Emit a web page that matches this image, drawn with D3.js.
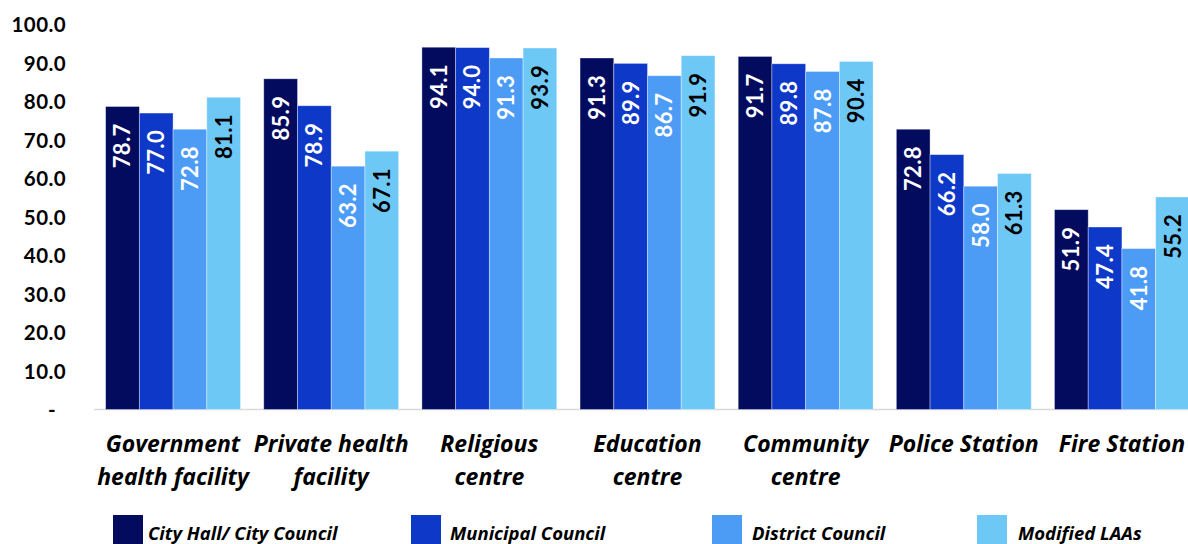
<!DOCTYPE html>
<html>
<head>
<meta charset="utf-8">
<script src="https://cdn.jsdelivr.net/npm/d3@7"></script>
<style>
  html, body { margin: 0; padding: 0; background: #fff; }
  svg { display: block; }
</style>
</head>
<body>
<svg id="chart" width="1188" height="544"></svg>
<script>
const categories = [
  ["Government", "health facility"],
  ["Private health", "facility"],
  ["Religious", "centre"],
  ["Education", "centre"],
  ["Community", "centre"],
  ["Police Station"],
  ["Fire Station"]
];
const seriesNames = ["City Hall/ City Council", "Municipal Council", "District Council", "Modified LAAs"];
const cityHall   = [78.7, 85.9, 94.1, 91.3, 91.7, 72.8, 51.9];
const municipal  = [77.0, 78.9, 94.0, 89.9, 89.8, 66.2, 47.4];
const district   = [72.8, 63.2, 91.3, 86.7, 87.8, 58.0, 41.8];
const modified   = [81.1, 67.1, 93.9, 91.9, 90.4, 61.3, 55.2];
const yTicks = [0, 10, 20, 30, 40, 50, 60, 70, 80, 90, 100];

const seriesValues = [cityHall, municipal, district, modified];
const colors = ["#020b5e", "#0e38c8", "#4c9cf6", "#6ec8f6"];
const labelColors = ["#ffffff", "#ffffff", "#ffffff", "#000000"];

const svg = d3.select("#chart");
const catKeys = categories.map(c => c.join(" "));

const x0 = d3.scaleBand().domain(catKeys).range([94, 1201])
  .paddingInner(0.147).paddingOuter(0.0735);
const x1 = d3.scaleBand().domain(d3.range(seriesNames.length)).range([0, x0.bandwidth()]);
const y = d3.scaleLinear().domain([0, 100]).range([409.5, 24.5]);

// y axis labels
const yAxis = d3.axisLeft(y).tickValues(yTicks).tickSize(0).tickPadding(0)
  .tickFormat(d => d === 0 ? "-" : d3.format(".1f")(d));
const gy = svg.append("g").attr("transform", "translate(66,0)").call(yAxis);
gy.select(".domain").remove();
gy.selectAll("text")
  .style("font-family", "Lato, sans-serif")
  .style("font-size", "20.5px").style("font-weight", 700).attr("fill", "#000")
  .attr("letter-spacing", 0.4)
  .attr("x", 0).attr("dy", "0.35em").attr("text-anchor", "end");
gy.selectAll(".tick").filter(d => d === 0).select("text").attr("x", -10);

// baseline
svg.append("line")
  .attr("x1", 94).attr("x2", 1188)
  .attr("y1", y(0)).attr("y2", y(0))
  .attr("stroke", "#d9d9d9").attr("stroke-width", 1.5);

// bars
const groups = svg.append("g").selectAll("g").data(catKeys).join("g")
  .attr("transform", d => `translate(${x0(d)},0)`);

groups.each(function(cat, ci) {
  const g = d3.select(this);
  seriesValues.forEach((vals, si) => {
    const v = vals[ci];
    g.append("rect")
      .attr("x", x1(si)).attr("width", x1.bandwidth())
      .attr("y", y(v)).attr("height", y(0) - y(v))
      .attr("fill", colors[si])
      .attr("stroke", "rgba(255,255,255,0.45)").attr("stroke-width", 0.8);
    const cx = x1(si) + x1.bandwidth() / 2;
    const ty = y(v) + 17;
    g.append("text")
      .attr("transform", `translate(${cx + 8},${ty}) rotate(-90)`)
      .attr("text-anchor", "end")
      .style("font-family", "Lato, sans-serif")
      .style("font-size", "22px").style("font-weight", 700)
      .attr("letter-spacing", 0.3)
      .attr("fill", labelColors[si])
      .text(d3.format(".1f")(v));
  });
});

// category labels
const catG = svg.append("g");
categories.forEach((lines, ci) => {
  const cx = x0(catKeys[ci]) + x0.bandwidth() / 2;
  const t = catG.append("text")
    .attr("text-anchor", "middle")
    .style("font-family", "'Open Sans', sans-serif")
    .style("font-size", "23px").style("font-weight", 700).style("font-style", "italic")
    .attr("fill", "#000");
  lines.forEach((ln, li) => {
    t.append("tspan").attr("x", cx).attr("y", 452 + li * 33).text(ln);
  });
});

// legend
const legendBoxX = [113, 411, 712, 977];
const legendTextX = [148, 450, 752, 1018];
const lg = svg.append("g");
seriesNames.forEach((name, si) => {
  lg.append("rect").attr("x", legendBoxX[si]).attr("y", 515)
    .attr("width", 30).attr("height", 32).attr("fill", colors[si]);
  lg.append("text").attr("x", legendTextX[si]).attr("y", 540)
    .style("font-family", "'Open Sans', sans-serif")
    .style("font-size", "18.5px").style("font-weight", 700).style("font-style", "italic")
    .attr("fill", "#000").text(name);
});
</script>
</body>
</html>
